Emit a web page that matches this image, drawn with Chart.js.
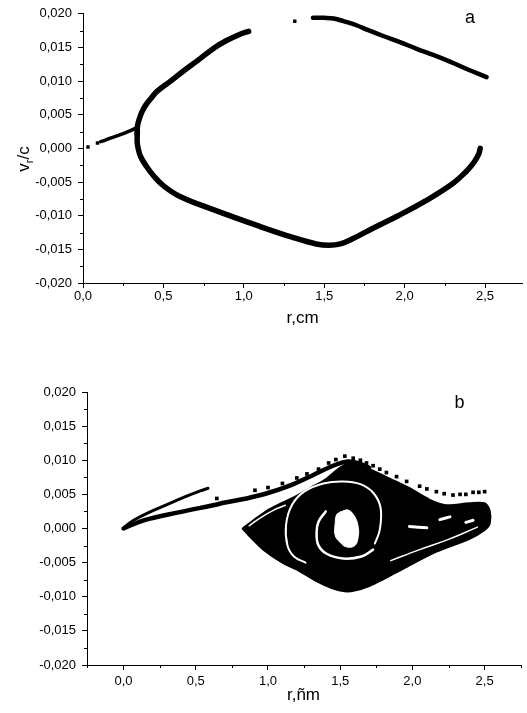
<!DOCTYPE html>
<html>
<head>
<meta charset="utf-8">
<script src="https://cdn.jsdelivr.net/npm/chart.js@4/dist/chart.umd.min.js"></script>
<style>
  body { margin: 0; background: #fff; }
  #wrap { position: relative; width: 527px; height: 713px; overflow: hidden; }
  canvas { position: absolute; left: 0; }
  #chartA { top: 0; }
  #chartB { top: 350px; }
</style>
</head>
<body>
<div id="wrap">
  <canvas id="chartA" width="527" height="350"></canvas>
  <canvas id="chartB" width="527" height="363"></canvas>
</div>
<script>
// ---- datos: (r, v_r/c) ----
const yTickValues = [-0.020, -0.015, -0.010, -0.005, 0.000, 0.005, 0.010, 0.015, 0.020];
const yTickLabels = ['-0,020', '-0,015', '-0,010', '-0,005', '0,000', '0,005', '0,010', '0,015', '0,020'];
const yMinorValues = [-0.0175, -0.0125, -0.0075, -0.0025, 0.0025, 0.0075, 0.0125, 0.0175];
const xTickValues = [0.0, 0.5, 1.0, 1.5, 2.0, 2.5];
const xTickLabels = ['0,0', '0,5', '1,0', '1,5', '2,0', '2,5'];
const xMinorA = [0.25, 0.75, 1.25, 1.75, 2.25];
const xMinorB = [-0.25, 0.25, 0.75, 1.25, 1.75, 2.25, 2.75];

// panel a
const aTail = [[0.11, 0.0010], [0.135, 0.0012], [0.18, 0.0016], [0.228, 0.0020], [0.28, 0.0025], [0.335, 0.0031]];
const aDots = [[0.031, 0.0002], [0.09, 0.0008], [1.317, 0.0189]];
const aUpper = [[0.336, 0.0022], [0.340, 0.0035], [0.352, 0.0045], [0.368, 0.0055], [0.392, 0.0065], [0.425, 0.0075],
  [0.462, 0.0085], [0.545, 0.0100], [0.625, 0.0115], [0.71, 0.0130], [0.82, 0.0150], [0.89, 0.0160], [0.97, 0.0169],
  [1.03, 0.0174]];
const aLower = [[0.338, 0.0025], [0.337, 0.0010], [0.343, 0.0000], [0.358, -0.0012], [0.395, -0.0027], [0.44, -0.0041],
  [0.498, -0.0055], [0.60, -0.0071], [0.81, -0.0091], [1.10, -0.0116], [1.30, -0.0132], [1.45, -0.0142],
  [1.53, -0.0144], [1.60, -0.0142], [1.68, -0.0134], [1.80, -0.0119], [1.96, -0.0100], [2.13, -0.0078],
  [2.30, -0.0052], [2.38, -0.0035], [2.43, -0.0021], [2.46, -0.0009], [2.47, 0.0000]];
const aRight = [[1.43, 0.0194], [1.50, 0.0194], [1.56, 0.0193], [1.62, 0.0189], [1.70, 0.0183], [1.77, 0.0176],
  [1.867, 0.0167], [1.971, 0.0158], [2.075, 0.0148], [2.178, 0.0139], [2.282, 0.0129], [2.386, 0.0118], [2.51, 0.0106]];

// panel b
const bTailUpper = [[0.005, 0.0002], [0.03, 0.0006], [0.07, 0.0012], [0.18, 0.0024], [0.30, 0.0035], [0.42, 0.0046],
  [0.53, 0.0055], [0.585, 0.0059]];
const bStreak = [[0.0, 0.0], [0.14, 0.0012], [0.39, 0.0024], [0.62, 0.0034], [0.703, 0.0038], [0.85, 0.0044],
  [1.0, 0.0052], [1.164, 0.0064], [1.30, 0.0077], [1.463, 0.0093], [1.55, 0.0098], [1.62, 0.0096], [1.70, 0.0089]];
const bBlob = [[0.825, 0.0], [0.90, 0.0012], [1.0, 0.0027], [1.083, 0.0036], [1.164, 0.0044], [1.30, 0.0060],
  [1.40, 0.0072], [1.48, 0.0086], [1.55, 0.0095], [1.62, 0.0094], [1.705, 0.0087], [1.843, 0.0073], [1.98, 0.0059],
  [2.12, 0.0042], [2.235, 0.0034], [2.396, 0.0037], [2.50, 0.0037], [2.535, 0.0026], [2.535, 0.0007], [2.50, -0.0002],
  [2.396, -0.0015], [2.166, -0.0034], [1.935, -0.0059], [1.80, -0.0074], [1.705, -0.0084], [1.60, -0.0091],
  [1.53, -0.0092], [1.45, -0.0088], [1.336, -0.0077], [1.198, -0.0060], [1.10, -0.0050], [0.968, -0.0031],
  [0.88, -0.0013], [0.825, 0.0]];
const bHole = [[1.50, 0.0024], [1.555, 0.0027], [1.602, 0.0017], [1.625, 0.0002], [1.625, -0.0012], [1.602, -0.0025],
  [1.544, -0.0027], [1.498, -0.0020], [1.465, -0.0010], [1.465, 0.0007], [1.475, 0.0020], [1.50, 0.0024]];
const bRing = [[1.74, -0.0022], [1.774, -0.0002], [1.780, 0.0030], [1.730, 0.0052], [1.640, 0.0065], [1.521, 0.0069],
  [1.383, 0.0066], [1.25, 0.0054], [1.165, 0.0034], [1.125, 0.0005], [1.135, -0.0025], [1.18, -0.0041], [1.26, -0.0050]];
const bInner = [[1.40, 0.0025], [1.35, 0.0010], [1.337, -0.0005], [1.348, -0.0024], [1.406, -0.0037], [1.521, -0.0044],
  [1.648, -0.0041], [1.728, -0.0031]];
const bEdge = [[0.87, 0.0004], [0.95, 0.0016], [1.04, 0.0027], [1.12, 0.0034]];
const bGapLow = [[1.85, -0.0047], [2.05, -0.0031], [2.25, -0.0016], [2.45, 0.0002]];
const bPatch1 = [[1.98, 0.0003], [2.10, 0.0001]];
const bPatch2 = [[2.19, 0.0013], [2.26, 0.0017]];
const bPatch3 = [[2.37, 0.0009], [2.42, 0.0012]];
const bDots = [[1.42, 0.0096], [1.47, 0.0101], [1.532, 0.0106], [1.59, 0.0103], [1.64, 0.0100], [1.682, 0.0096],
  [1.728, 0.0092], [1.774, 0.0087], [1.82, 0.0082], [1.89, 0.0076], [1.96, 0.0069], [2.05, 0.0062], [2.10, 0.0058],
  [2.166, 0.0054], [2.22, 0.0051], [2.281, 0.0049], [2.33, 0.0050], [2.37, 0.0050], [2.42, 0.0053], [2.46, 0.0053],
  [2.50, 0.0054], [0.646, 0.0044], [0.91, 0.0056], [1.0, 0.0060], [1.10, 0.0066], [1.2, 0.0074], [1.27, 0.0080],
  [1.35, 0.0087]];

const FONT = '"Liberation Sans", Arial, sans-serif';
const pts = arr => arr.map(p => ({x: p[0], y: p[1]}));

function curve(arr, width, color, order, extra) {
  return Object.assign({
    data: pts(arr), showLine: true, borderColor: color, backgroundColor: color,
    borderWidth: width, pointRadius: 0, tension: 0.4, order: order,
    borderCapStyle: 'round', borderJoinStyle: 'round'
  }, extra || {});
}
function dots(arr, radius, order) {
  return {data: pts(arr), showLine: false, pointStyle: 'rect', pointRadius: radius,
    backgroundColor: '#000', borderColor: '#000', borderWidth: 0, order: order};
}

// marcas menores, título del eje y con subíndice y letra del panel
const extras = {
  id: 'extras',
  afterDraw(chart, args, opts) {
    const {ctx, scales: {x, y}} = chart;
    ctx.save();
    ctx.strokeStyle = '#000';
    ctx.lineWidth = 1;
    opts.xMinor.forEach(v => {
      const px = Math.round(x.getPixelForValue(v)) + 0.5;
      ctx.beginPath(); ctx.moveTo(px, y.bottom); ctx.lineTo(px, y.bottom + 3); ctx.stroke();
    });
    yMinorValues.forEach(v => {
      const py = Math.round(y.getPixelForValue(v)) + 0.5;
      ctx.beginPath(); ctx.moveTo(x.left, py); ctx.lineTo(x.left - 3, py); ctx.stroke();
    });
    // v_r/c girado
    ctx.fillStyle = '#000';
    ctx.translate(opts.yTitleX, opts.yTitleY);
    ctx.rotate(-Math.PI / 2);
    ctx.textBaseline = 'alphabetic';
    ctx.font = '17px ' + FONT;
    const wv = ctx.measureText('v').width;
    ctx.font = '11px ' + FONT;
    const wr = ctx.measureText('r').width;
    ctx.font = '17px ' + FONT;
    const wc = ctx.measureText('/c').width;
    let sx = -(wv + wr + wc) / 2;
    ctx.fillText('v', sx, 6);
    ctx.font = '11px ' + FONT;
    ctx.fillText('r', sx + wv, 10);
    ctx.font = '17px ' + FONT;
    ctx.fillText('/c', sx + wv + wr, 6);
    ctx.restore();
    // letra
    ctx.save();
    ctx.fillStyle = '#000';
    ctx.font = '18px ' + FONT;
    ctx.textAlign = 'center';
    ctx.textBaseline = 'middle';
    ctx.fillText(opts.letter, x.getPixelForValue(opts.letterAt[0]), y.getPixelForValue(opts.letterAt[1]));
    ctx.restore();
  }
};

function makeChart(id, datasets, g) {
  return new Chart(document.getElementById(id), {
    type: 'scatter',
    data: {datasets: datasets},
    plugins: [extras],
    options: {
      responsive: false,
      animation: false,
      layout: {padding: {top: g.top, right: g.right, left: 0, bottom: 0}},
      plugins: {
        legend: {display: false},
        tooltip: {enabled: false},
        extras: {xMinor: g.xMinor, yTitleX: g.yTitleX, yTitleY: g.yTitleY, letter: g.letter, letterAt: g.letterAt}
      },
      scales: {
        x: {
          type: 'linear', min: g.xMin, max: g.xMax,
          afterBuildTicks: s => { s.ticks = xTickValues.map(v => ({value: v})); },
          afterFit: s => { s.height = g.xHeight; },
          ticks: {callback: (v, i) => xTickLabels[i], color: '#000', font: {family: FONT, size: 13},
            padding: g.xPad, maxRotation: 0, autoSkip: false},
          grid: {drawOnChartArea: false, drawTicks: true, tickLength: 5, color: '#000', lineWidth: 1},
          border: {display: true, color: '#000', width: 1},
          title: {display: true, text: g.xTitle, color: '#000', font: {family: FONT, size: 17},
            padding: {top: 0, bottom: g.xTitlePad}}
        },
        y: {
          type: 'linear', min: -0.020, max: 0.020,
          afterBuildTicks: s => { s.ticks = yTickValues.map(v => ({value: v})); },
          afterFit: s => { s.width = g.yWidth; },
          ticks: {callback: (v, i) => yTickLabels[i], color: '#000', font: {family: FONT, size: 13},
            padding: 6, autoSkip: false},
          grid: {drawOnChartArea: false, drawTicks: true, tickLength: 5, color: '#000', lineWidth: 1},
          border: {display: true, color: '#000', width: 1}
        }
      }
    }
  });
}

makeChart('chartA', [
  dots(aDots, 2.4, 1),
  curve(aTail, 3.5, '#000', 2),
  curve(aUpper, 5.5, '#000', 2),
  curve(aLower, 5.5, '#000', 2),
  curve(aRight, 4.5, '#000', 2)
], {top: 13, right: 5, xMin: 0, xMax: 2.73, xHeight: 67, xPad: 1, xTitle: 'r,cm', xTitlePad: 21,
  yWidth: 83, xMinor: xMinorA, yTitleX: 23, yTitleY: 159, letter: 'a', letterAt: [2.407, 0.0193]});

makeChart('chartB', [
  dots(bDots, 2.6, 1),
  curve(bPatch1, 3, '#fff', 3),
  curve(bPatch2, 3, '#fff', 3),
  curve(bPatch3, 3, '#fff', 3),
  curve(bGapLow, 1.5, '#fff', 3),
  curve(bEdge, 1.5, '#fff', 3),
  curve(bInner, 2.5, '#fff', 3),
  curve(bRing, 2, '#fff', 3),
  curve(bHole, 1, '#fff', 3, {fill: 'shape'}),
  curve(bTailUpper, 3, '#000', 5),
  curve(bStreak, 4.5, '#000', 5),
  curve(bBlob, 2, '#000', 8, {fill: 'shape', tension: 0.3})
], {top: 42, right: 7, xMin: -0.253, xMax: 2.745, xHeight: 48, xPad: 3.5, xTitle: 'r,ñm', xTitlePad: 7,
  yWidth: 87, xMinor: xMinorB, yTitleX: 24, yTitleY: 541, letter: 'b', letterAt: [2.327, 0.0184]});
</script>
</body>
</html>
